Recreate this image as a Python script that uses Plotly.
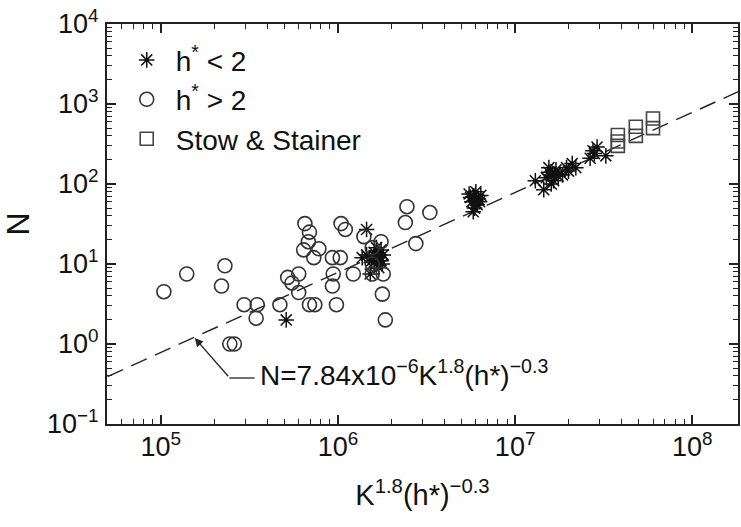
import plotly.graph_objects as go

# ---------------- data ----------------
low_x = [5.1e5, 1.45e6, 1.37e6, 1.52e6, 1.45e6, 1.55e6, 1.6e6, 1.65e6, 1.7e6, 1.75e6,
         1.8e6, 1.7e6, 1.65e6, 1.75e6, 1.5e6, 1.78e6, 1.6e6, 1.68e6,
         5.5e6, 5.8e6, 6.0e6, 6.2e6, 5.7e6, 6.1e6, 5.9e6, 6.3e6, 5.6e6, 6.0e6, 5.8e6, 6.4e6,
         1.3e7, 1.45e7, 1.5e7, 1.55e7, 1.6e7, 1.65e7, 1.7e7, 1.75e7, 1.6e7, 1.55e7, 1.68e7,
         1.85e7, 1.95e7, 2.1e7, 2.2e7, 2.0e7,
         2.65e7, 2.8e7, 2.9e7, 2.75e7, 3.25e7]
low_y = [2.0, 27, 12, 7.5, 13, 11, 14, 10, 12, 11,
         13, 9, 16, 15, 12, 10, 10.5, 12.5,
         75, 70, 80, 65, 60, 55, 50, 60, 68, 62, 45, 72,
         110, 85, 120, 140, 130, 110, 150, 125, 100, 160, 135,
         130, 160, 180, 160, 145,
         210, 240, 290, 260, 225]

high_x = [1.04e5, 1.4e5, 2.3e5, 2.2e5, 2.95e5, 3.5e5, 3.45e5, 2.45e5, 2.6e5, 4.7e5,
          5.2e5, 5.5e5, 6.0e5, 6.0e5, 6.5e5, 6.9e5, 6.8e5, 6.4e5, 7.8e5, 7.3e5,
          9.3e5, 1.03e6, 9.4e5, 9.3e5, 1.22e6, 6.9e5, 7.4e5, 9.8e5, 1.04e6, 1.1e6,
          1.4e6, 1.56e6, 1.75e6, 1.56e6, 1.8e6, 1.56e6, 1.78e6, 1.85e6,
          2.45e6, 2.4e6, 3.3e6, 2.75e6]
high_y = [4.5, 7.5, 9.5, 5.3, 3.1, 3.1, 2.1, 1.0, 1.0, 3.1,
          6.8, 5.8, 7.5, 4.4, 32, 25, 19, 15, 15.5, 12,
          12, 12, 7.5, 5.3, 7.5, 3.1, 3.1, 3.1, 32, 27,
          22, 16, 19, 10, 7.5, 7.5, 4.2, 2.0,
          52, 33, 44, 18]

stow_x = [3.8e7, 3.8e7, 3.8e7, 4.8e7, 4.8e7, 6.0e7, 6.0e7]
stow_y = [410, 340, 300, 520, 400, 660, 500]

fit_coef = 7.84e-6
fit_x = [5e4, 2e8]

y_tickvals = [0.1, 1, 10, 100, 1000, 10000]
y_ticktext = ["10<sup>−1</sup>", "10<sup>0</sup>", "10<sup>1</sup>",
              "10<sup>2</sup>", "10<sup>3</sup>", "10<sup>4</sup>"]
x_tickvals = [1e5, 1e6, 1e7, 1e8]
x_ticktext = ["10<sup>5</sup>", "10<sup>6</sup>", "10<sup>7</sup>", "10<sup>8</sup>"]

# ---------------- figure ----------------
FONT = "Liberation Sans, Arial, Helvetica, sans-serif"
fig = go.Figure()

fig.add_trace(go.Scatter(
    x=fit_x, y=[fit_coef * v for v in fit_x], mode="lines",
    line=dict(color="#222222", width=1.4, dash="17px,9px"),
    showlegend=False, hoverinfo="skip"))

fig.add_trace(go.Scatter(
    x=low_x, y=low_y, mode="markers", name="h<sup>*</sup> &lt; 2",
    marker=dict(symbol="asterisk-open", size=13, color="#111111",
                line=dict(width=1.5, color="#111111"))))
fig.add_trace(go.Scatter(
    x=high_x, y=high_y, mode="markers", name="h<sup>*</sup> &gt; 2",
    marker=dict(symbol="circle-open", size=14, color="#333333",
                line=dict(width=1.6, color="#333333"))))
fig.add_trace(go.Scatter(
    x=stow_x, y=stow_y, mode="markers", name="Stow &amp; Stainer",
    marker=dict(symbol="square-open", size=13, color="#444444",
                line=dict(width=1.6, color="#444444"))))

minor_x = [d * 10 ** k for k in range(4, 9) for d in range(2, 10)]
minor_y = [d * 10 ** k for k in range(-1, 4) for d in range(2, 10)]

axis_common = dict(type="log", showline=True, linecolor="#222222", linewidth=2,
                   mirror="allticks", ticks="inside", ticklen=9, tickwidth=1.5,
                   tickcolor="#222222", showgrid=False, zeroline=False,
                   tickfont=dict(family=FONT, size=27, color="#111111"))

fig.update_xaxes(**axis_common, range=[4.696, 8.258], tickmode="array",
                 tickvals=x_tickvals, ticktext=x_ticktext,
                 minor=dict(tickmode="array", tickvals=minor_x, ticks="inside",
                            ticklen=5, tickwidth=1.2, tickcolor="#222222"),
                 ticklabelstandoff=-2,
                 title=dict(text="K<sup>1.8</sup>(h*)<sup>−0.3</sup>",
                            font=dict(family=FONT, size=29, color="#111111"),
                            standoff=23))
fig.update_yaxes(**axis_common, range=[-1, 4], tickmode="array",
                 tickvals=y_tickvals, ticktext=y_ticktext,
                 minor=dict(tickmode="array", tickvals=minor_y, ticks="inside",
                            ticklen=5, tickwidth=1.2, tickcolor="#222222"),
                 ticklabelstandoff=1,
                 title=dict(text="N", font=dict(family=FONT, size=32, color="#111111"),
                            standoff=8))

# annotation with elbow arrow (paper coordinates)
fig.add_shape(type="line", xref="paper", yref="paper", x0=0.194, y0=0.115, x1=0.234, y1=0.115,
              line=dict(color="#222222", width=1.3))
fig.add_annotation(xref="paper", yref="paper", x=0.139, y=0.215, ax=35, ay=40,
                   axref="pixel", ayref="pixel", text=" ", font=dict(size=1),
                   showarrow=True, arrowhead=2, arrowsize=1.3, arrowwidth=1.3,
                   arrowcolor="#222222", standoff=0, startstandoff=0)
fig.add_annotation(xref="paper", yref="paper", x=0.240, y=0.127, xanchor="left",
                   yanchor="middle", showarrow=False,
                   text="N=7.84x10<sup>−6</sup>K<sup>1.8</sup>(h*)<sup>−0.3</sup>",
                   font=dict(family=FONT, size=28, color="#111111"))

fig.update_layout(
    width=741, height=527,
    margin=dict(l=107, r=1, t=24, b=103),
    paper_bgcolor="white", plot_bgcolor="white",
    font=dict(family=FONT, color="#111111"),
    legend=dict(x=0.017, y=0.972, xanchor="left", yanchor="top",
                bgcolor="rgba(0,0,0,0)", itemwidth=48,
                font=dict(family=FONT, size=28, color="#111111"),
                tracegroupgap=0),
)

fig.write_html("out.html")
